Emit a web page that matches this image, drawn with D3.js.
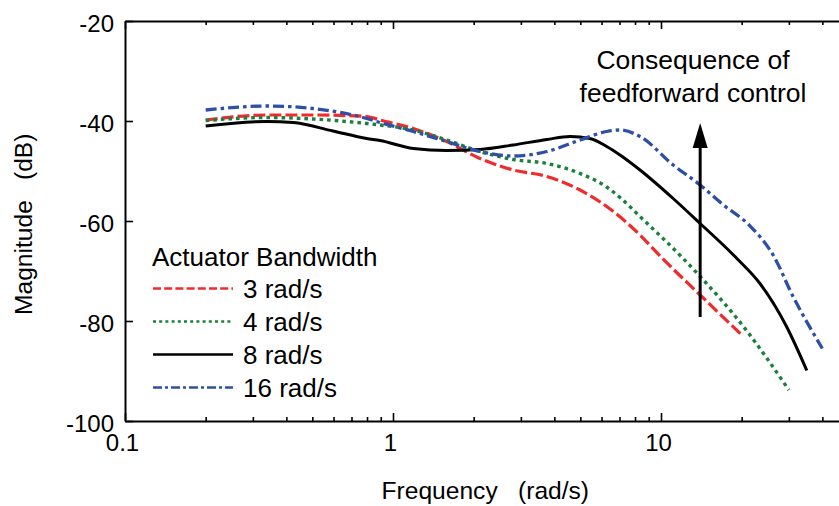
<!DOCTYPE html>
<html>
<head>
<meta charset="utf-8">
<script src="https://cdn.jsdelivr.net/npm/d3@7"></script>
<style>
  html, body { margin: 0; padding: 0; background: #fff; }
  svg { display: block; font-family: Arial, "Liberation Sans", sans-serif; }
</style>
</head>
<body>
<svg id="chart" width="839" height="506"></svg>
<script>
// ---- Data ----
const seriesNames = ["3 rad/s", "4 rad/s", "8 rad/s", "16 rad/s"];

const freq3  = [0.2, 0.338, 0.502, 0.798, 0.894, 1.19, 1.586, 2.11, 2.81, 3.75, 4.99, 6.27, 8.35, 9.92, 14.0, 20.0];
const mag3   = [-39.8, -38.8, -38.8, -39.1, -39.8, -41.5, -44.1, -47.5, -49.8, -51.1, -53.8, -57.1, -62.8, -67.0, -74.8, -82.8];

const freq4  = [0.2, 0.338, 0.502, 0.798, 0.894, 1.19, 1.586, 2.11, 2.81, 3.75, 4.99, 6.27, 7.03, 8.35, 12.1, 14.0, 20.3, 30.0];
const mag4   = [-39.9, -39.3, -39.6, -40.5, -40.8, -41.8, -43.8, -46.1, -47.7, -48.5, -50.5, -53.2, -55.3, -59.1, -67.5, -71.1, -81.1, -93.8];

const freq8  = [0.2, 0.338, 0.424, 0.597, 0.798, 0.894, 1.19, 1.586, 2.11, 2.81, 3.75, 4.58, 5.43, 6.27, 7.03, 8.35, 11.1, 14.0, 19.2, 23.4, 29.4, 35.0];
const mag8   = [-41.0, -40.1, -40.3, -42.0, -43.5, -43.9, -45.5, -45.9, -45.7, -44.8, -43.7, -43.1, -43.5, -45.1, -46.8, -49.8, -55.5, -60.5, -67.5, -72.5, -81.1, -89.9];

const freq16 = [0.2, 0.338, 0.502, 0.798, 0.894, 1.19, 1.586, 2.11, 2.81, 3.75, 4.99, 6.27, 7.03, 8.35, 11.1, 14.0, 17.1, 21.5, 26.2, 31.1, 40.0];
const mag16  = [-37.8, -37.0, -37.5, -39.5, -40.3, -42.1, -44.1, -46.1, -47.0, -46.1, -43.8, -42.1, -41.8, -43.1, -48.8, -52.8, -56.8, -61.0, -66.8, -75.1, -85.5];

const xMajorTicks = [0.1, 1, 10];
const xTickLabels = ["0.1", "1", "10"];
const yTicks = [-20, -40, -60, -80, -100];

const legendTitle = "Actuator Bandwidth";
const annotationLines = ["Consequence of", "feedforward control"];
const arrowFreq = 14;
const arrowFromDb = -79.2;
const arrowToDb = -40.4;

// ---- Styles ----
const colors = ["#ef2b2d", "#1c7f3d", "#000000", "#2e4fa6"];
const plotDash = ["12,4", "3.6,4", null, "11,4,3.5,4"];
const legendDash = ["8,3.2", "3,3.2", null, "9,3,3,3"];
const plotWidth = [3.2, 3.4, 3.0, 3.3];

const svg = d3.select("#chart");
const mLeft = 125, mTop = 21, mBottom = 421, decade = 268;
const x = d3.scaleLog().domain([0.1, 100]).range([mLeft, mLeft + 3 * decade]);
const y = d3.scaleLinear().domain([-100, -20]).range([mBottom, mTop]);

const minorTicks = [];
[0.1, 1, 10].forEach(d => { for (let k = 2; k <= 9; k++) minorTicks.push(d * k); });

// ---- Curves ----
const series = [
  {f: freq3, m: mag3}, {f: freq4, m: mag4}, {f: freq8, m: mag8}, {f: freq16, m: mag16}
];
const line = d3.line().x(d => x(d[0])).y(d => y(d[1])).curve(d3.curveMonotoneX);
series.forEach((s, i) => {
  svg.append("path")
    .datum(s.f.map((f, j) => [f, s.m[j]]))
    .attr("d", line)
    .attr("fill", "none")
    .attr("stroke", colors[i])
    .attr("stroke-width", plotWidth[i])
    .attr("stroke-dasharray", plotDash[i])
    .attr("stroke-linecap", "butt");
});

// ---- Axes ----
function styleAxis(g) {
  g.selectAll(".domain").attr("stroke", "#000").attr("stroke-width", 2);
  g.selectAll(".tick line").attr("stroke", "#000").attr("stroke-width", 1.6);
}
const gb = svg.append("g").attr("transform", `translate(0,${mBottom})`)
  .call(d3.axisBottom(x).tickValues(xMajorTicks).tickSizeInner(-8).tickSizeOuter(0)
    .tickPadding(13).tickFormat((d, i) => xTickLabels[i]));
styleAxis(gb);
gb.selectAll(".tick text").attr("font-size", 24).attr("fill", "#000").attr("dx", -3)
  .attr("font-family", "Arial, 'Liberation Sans', sans-serif");
const gbm = svg.append("g").attr("transform", `translate(0,${mBottom})`)
  .call(d3.axisBottom(x).tickValues(minorTicks).tickSizeInner(-4).tickSizeOuter(0).tickFormat(""));
styleAxis(gbm); gbm.select(".domain").remove();
const gt = svg.append("g").attr("transform", `translate(0,${mTop})`)
  .call(d3.axisTop(x).tickValues(xMajorTicks).tickSizeInner(-8).tickSizeOuter(0).tickFormat(""));
styleAxis(gt);
const gtm = svg.append("g").attr("transform", `translate(0,${mTop})`)
  .call(d3.axisTop(x).tickValues(minorTicks).tickSizeInner(-4).tickSizeOuter(0).tickFormat(""));
styleAxis(gtm); gtm.select(".domain").remove();
const gl = svg.append("g").attr("transform", `translate(${mLeft},0)`)
  .call(d3.axisLeft(y).tickValues(yTicks).tickSizeInner(-8).tickSizeOuter(0).tickPadding(11)
    .tickFormat(d => String(d)));
styleAxis(gl);
gl.selectAll(".tick text").attr("font-size", 24).attr("fill", "#000").attr("dy", "0.45em")
  .attr("font-family", "Arial, 'Liberation Sans', sans-serif");

// ---- Axis titles ----
svg.append("text").attr("x", 381.5).attr("y", 499).attr("font-size", 24.6).text("Frequency");
svg.append("text").attr("x", 518).attr("y", 499).attr("font-size", 24.6).text("(rad/s)");
const yl = svg.append("g").attr("transform", "translate(32,0) rotate(-90)");
yl.append("text").attr("x", -315).attr("y", 0).attr("font-size", 24.6).text("Magnitude");
yl.append("text").attr("x", -180).attr("y", 0).attr("font-size", 24.6).text("(dB)");

// ---- Legend ----
svg.append("text").attr("x", 152).attr("y", 266).attr("font-size", 26).text(legendTitle);
seriesNames.forEach((name, i) => {
  const by = 298 + i * 33;
  svg.append("line").attr("x1", 153).attr("x2", 233).attr("y1", by - 9.5).attr("y2", by - 9.5)
    .attr("stroke", colors[i]).attr("stroke-width", 2.6).attr("stroke-dasharray", legendDash[i]);
  svg.append("text").attr("x", 243).attr("y", by).attr("font-size", 26).text(name);
});

// ---- Annotation ----
annotationLines.forEach((t, i) => {
  svg.append("text").attr("x", 693).attr("y", 69 + i * 33).attr("font-size", 26.5)
    .attr("text-anchor", "middle").text(t);
});
const ax = x(arrowFreq);
svg.append("line").attr("x1", ax).attr("x2", ax).attr("y1", y(arrowFromDb)).attr("y2", y(arrowToDb) + 20)
  .attr("stroke", "#000").attr("stroke-width", 3);
svg.append("path")
  .attr("d", `M${ax},${y(arrowToDb)} L${ax - 7.5},${y(arrowToDb) + 25} L${ax + 7.5},${y(arrowToDb) + 25} Z`)
  .attr("fill", "#000");
</script>
</body>
</html>
